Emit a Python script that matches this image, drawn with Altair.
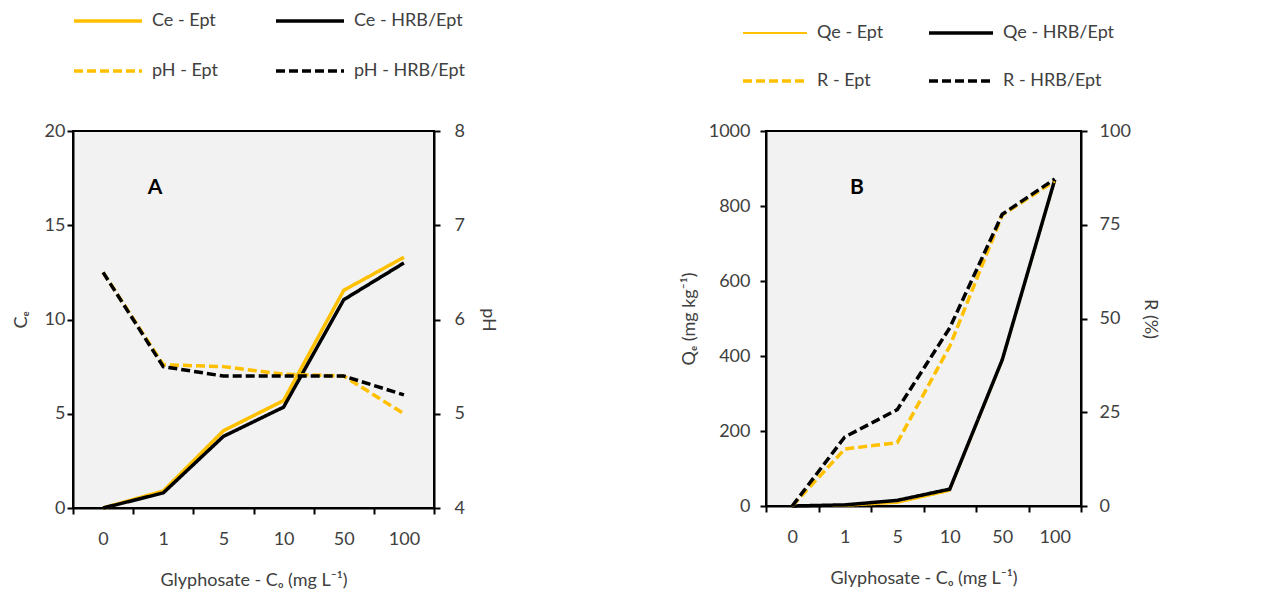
import altair as alt
import pandas as pd

co = ["0", "1", "5", "10", "50", "100"]

# Panel A
ce_ept = [0, 0.9, 4.1, 5.7, 11.55, 13.3]
ce_hrb = [0, 0.8, 3.8, 5.35, 11.05, 13.0]
ph_ept = [6.5, 5.52, 5.5, 5.42, 5.4, 5.0]
ph_hrb = [6.5, 5.5, 5.4, 5.4, 5.4, 5.2]
# Panel B
qe_ept = [0, 0, 8, 40, 385, 865]
qe_hrb = [0, 3, 15, 45, 390, 870]
r_ept = [0, 15.2, 16.9, 42.6, 77.6, 86.7]
r_hrb = [0, 18.4, 25.7, 47.5, 77.8, 87.2]

series_a = ["Ce - Ept", "Ce - HRB/Ept", "pH - Ept", "pH - HRB/Ept"]
series_b = ["Qe - Ept", "Qe - HRB/Ept", "R - Ept", "R - HRB/Ept"]

GOLD = "#FFC000"
FONT = "Lato"
TXT = "#404040"


def long(names, arrays):
    rows = []
    for n, arr in zip(names, arrays):
        for c, v in zip(co, arr):
            rows.append({"co": c, "value": v, "series": n})
    return pd.DataFrame(rows)


def xenc():
    return alt.X(
        "co:N", sort=co, bandPosition=0.5,
        scale=alt.Scale(type="band", paddingInner=0, paddingOuter=0),
        axis=alt.Axis(title="Glyphosate - Cₒ (mg L⁻¹)", labelAngle=0, tickBand="extent",
                      labelPadding=16, titlePadding=23),
    )


def style_encs(series, widths, legend):
    # legend fills column-wise: col 1 = Ept series, col 2 = HRB/Ept series
    dom = [series[0], series[2], series[1], series[3]]
    return dict(
        color=alt.Color("series:N", scale=alt.Scale(domain=dom, range=[GOLD, GOLD, "#000000", "#000000"]), legend=legend),
        strokeDash=alt.StrokeDash("series:N", scale=alt.Scale(domain=dom, range=[[1, 0], [9, 4], [1, 0], [9, 4]]), legend=legend),
        strokeWidth=alt.StrokeWidth("series:N", scale=alt.Scale(type="ordinal", domain=dom, range=[widths[0], widths[2], widths[1], widths[3]]), legend=legend),
    )


def panel(series, left_arrays, right_arrays, widths, ldom, lstep, ltitle, rdom, rstep, rtitle,
          letter, letter_x, letter_y, W, H, leg, lpad, rpad):
    legend = alt.Legend(
        title=None, orient="none", legendX=leg[0], legendY=leg[1], columns=2,
        columnPadding=leg[2], rowPadding=leg[3], padding=0, symbolType="stroke",
        symbolSize=leg[4] ** 2, clipHeight=20, labelOffset=8, labelFont=FONT, labelFontSize=18,
        labelColor=TXT, labelLimit=300,
    )
    dl = long(series[:2], left_arrays)
    dr = long(series[2:], right_arrays)
    enc = style_encs(series, widths, legend)
    left = alt.Chart(dl).mark_line(strokeCap="butt").encode(
        x=xenc(),
        y=alt.Y("value:Q", scale=alt.Scale(domain=ldom, nice=False),
                axis=alt.Axis(title=ltitle, orient="left", format="d", labelPadding=lpad[0], titlePadding=lpad[1],
                              values=list(range(ldom[0], ldom[1] + 1, lstep)))),
        detail="series:N",
        **enc,
    )
    right = alt.Chart(dr).mark_line(strokeCap="butt").encode(
        x=xenc(),
        y=alt.Y("value:Q", scale=alt.Scale(domain=rdom, nice=False),
                axis=alt.Axis(title=rtitle, orient="right", format="d", labelPadding=rpad[0], titlePadding=rpad[1],
                              values=list(range(rdom[0], rdom[1] + 1, rstep)))),
        detail="series:N",
        **enc,
    )
    lab = alt.Chart(pd.DataFrame({"t": [letter]})).mark_text(
        font=FONT, fontSize=21, fontWeight="bold", color="#000000"
    ).encode(x=alt.value(letter_x), y=alt.value(letter_y), text="t:N")
    return alt.layer(left, right, lab).resolve_scale(y="independent").properties(width=W, height=H)


pa = panel(series_a, [ce_ept, ce_hrb], [ph_ept, ph_hrb], [3.5, 3.5, 3.5, 3.5],
           [0, 20], 5, "Cₑ", [4, 8], 1, "pH", "A", 82, 57, 361, 377,
           (-1, -120, 55, 30, 68), (2, 14), (14, 14))
pb = panel(series_b, [qe_ept, qe_hrb], [r_ept, r_hrb], [1.8, 3.5, 3.5, 3.5],
           [0, 1000], 200, "Qₑ (mg kg⁻¹)", [0, 100], 25, "R (%)", "B", 91, 57, 315, 375,
           (-25, -108, 43, 28, 64), (10, 10), (12, 10))

chart = alt.hconcat(pa, pb, spacing=181).properties(
    padding={"left": 3, "top": 2, "right": 5, "bottom": 0}
).resolve_scale(
    color="independent", strokeDash="independent", strokeWidth="independent"
).resolve_legend(color="independent", strokeDash="independent", strokeWidth="independent").configure(
    background="#FFFFFF"
).configure_view(
    fill="#F2F2F2", stroke="#000000", strokeWidth=2
).configure_axis(
    grid=False, domainColor="#000000", domainWidth=2, tickColor="#000000", tickWidth=2, tickSize=6,
    labelFont=FONT, labelFontSize=18, labelColor=TXT, titleFont=FONT, titleFontSize=18,
    titleFontWeight="normal", titleColor=TXT,
)

chart.save("out.html", embed_options={"renderer": "svg", "actions": False})
